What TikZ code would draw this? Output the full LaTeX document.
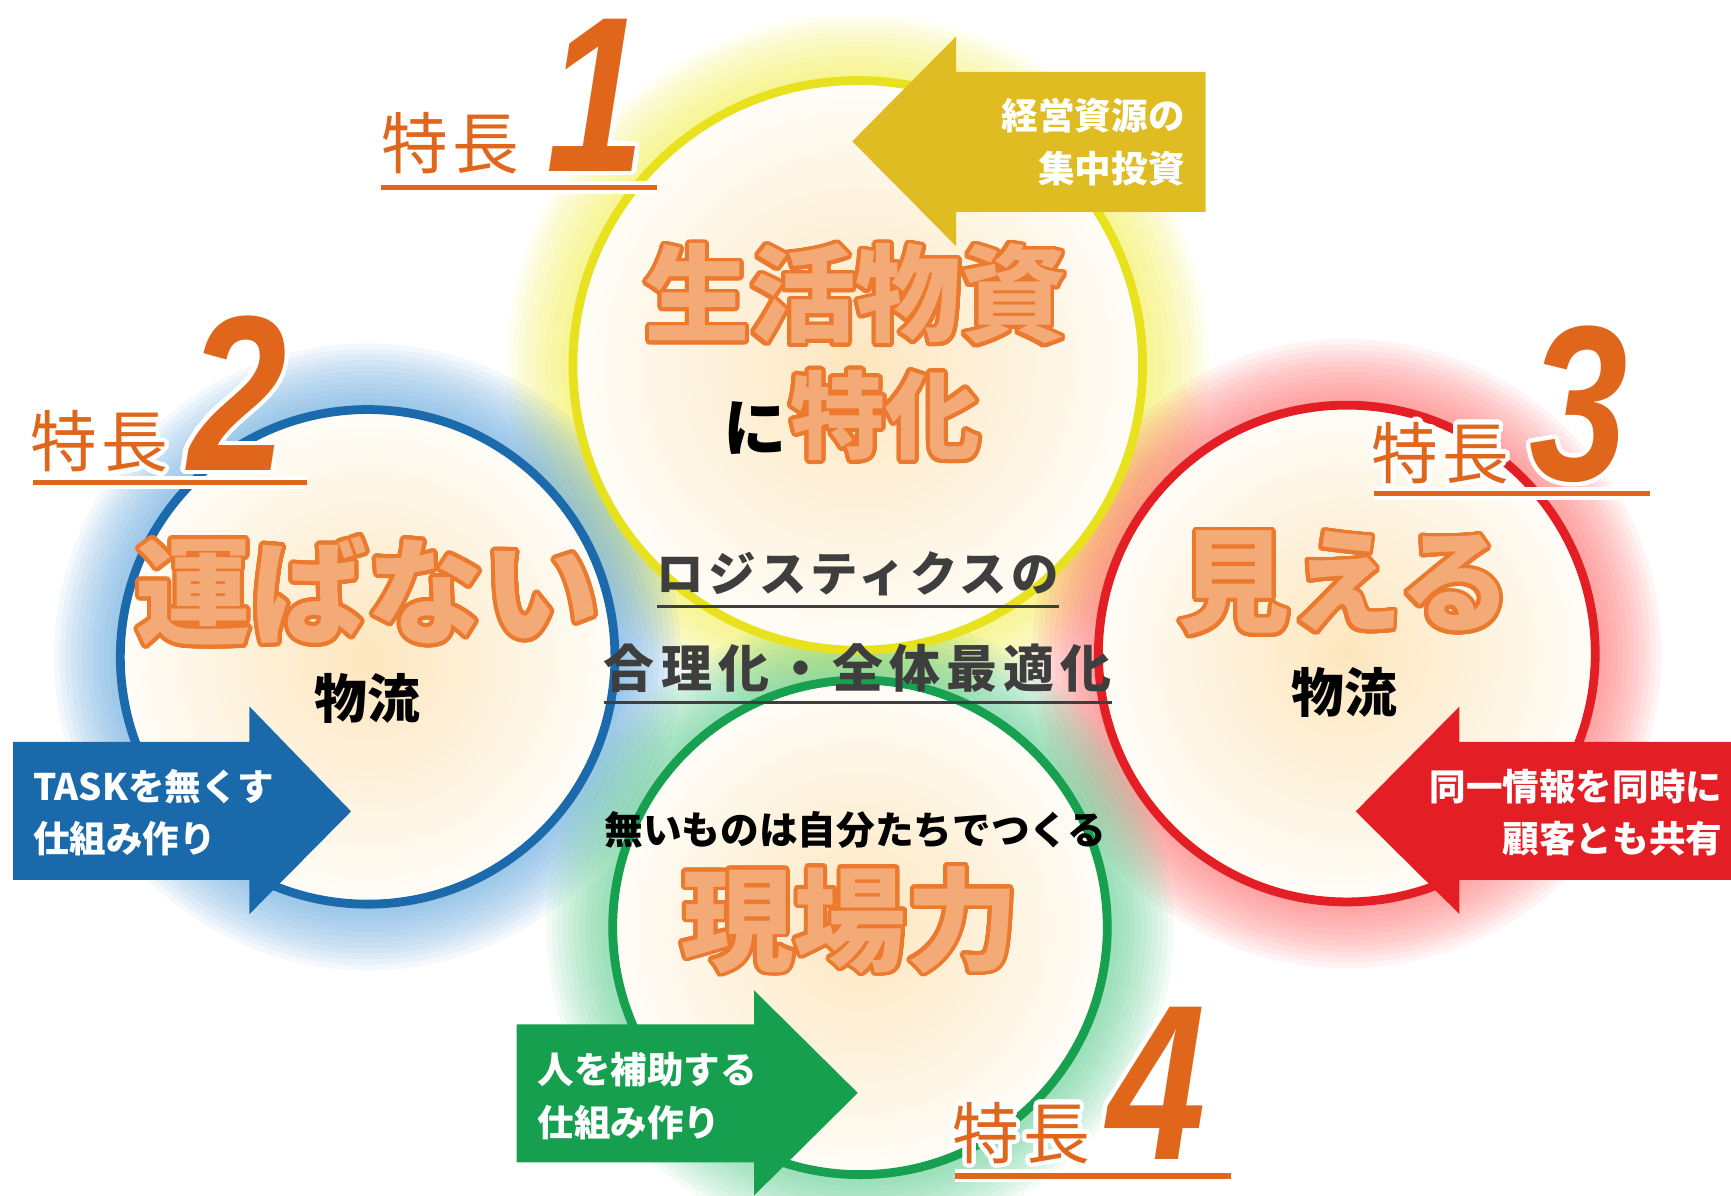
\documentclass[tikz,border=0pt]{standalone}
\usepackage{fontspec}
\usepackage{contour}
\usetikzlibrary{calc,positioning}

\newfontfamily\jp{Noto Sans CJK JP}
\newfontfamily\numfont{Liberation Sans}[FakeStretch=0.8]
\contournumber{32}

\definecolor{ringY}{HTML}{E8E21E}
\definecolor{ringB}{HTML}{1B6AAB}
\definecolor{ringR}{HTML}{E31E24}
\definecolor{ringG}{HTML}{17A04F}
\definecolor{glowY}{HTML}{F2EE50}
\definecolor{glowB}{HTML}{5DA3DA}
\definecolor{glowR}{HTML}{FF6A6A}
\definecolor{glowG}{HTML}{5CCB8E}
\definecolor{arrY}{HTML}{DFBD22}
\definecolor{arrB}{HTML}{1A69AA}
\definecolor{arrR}{HTML}{E31E24}
\definecolor{arrG}{HTML}{169F4E}
\definecolor{wordfill}{HTML}{F4AA76}
\definecolor{wordline}{HTML}{EC7A2E}
\definecolor{featorange}{HTML}{E0661C}
\definecolor{midgray}{HTML}{3E3E3E}
\definecolor{creamin}{HTML}{FDE6BE}
\definecolor{creamout}{HTML}{FFFDF8}

\newcommand{\hatchword}[1]{\contourlength{1.1pt}\contour{wordline}{#1}}
\newcommand{\whiteedge}[1]{\contourlength{1.2pt}\contour{white}{#1}}

\begin{document}
\begin{tikzpicture}[x=0.1104mm,y=-0.1104mm]
    \tikzstyle{every node}=[inner sep=0pt,outer sep=0pt]
    \tikzstyle{bigword}=[text=wordfill,font=\jp\bfseries\fontsize{30}{30}\selectfont]
    \tikzstyle{blackword}=[text=black,font=\jp\bfseries\fontsize{15}{15}\selectfont]
    \tikzstyle{featlbl}=[text=featorange,font=\jp\fontsize{19}{19}\selectfont\addfontfeature{LetterSpace=6}]
    \tikzstyle{featnum}=[text=featorange,font=\numfont\bfseries\itshape\fontsize{63}{63}\selectfont]
    \tikzstyle{arrtext}=[text=white,font=\jp\bfseries\fontsize{10.4}{15}\selectfont]
    \tikzstyle{midtext}=[text=midgray,font=\jp\bfseries\fontsize{13.5}{13.5}\selectfont\addfontfeature{LetterSpace=8}]
    \tikzstyle{featedge}=[white,line width=3.6pt]
    \tikzstyle{featbar}=[featorange,line width=1.6pt]
    \tikzstyle{midbar}=[midgray,line width=0.9pt]

    \useasboundingbox (0,0) rectangle (1568,1083);

    %% soft halos round the four circles
    \foreach \cx/\cy/\r/\gc in {777/331/258/glowY,333/595/224/glowB,1220/592/225/glowR,779/840/224/glowG}{
        \foreach \k in {1,...,12}
            \fill[\gc,opacity=0.08] (\cx,\cy) circle ({\r+\k*5});
    }

    %% the circles
    \foreach \cx/\cy/\r/\rc in {777/331/258/ringY,333/595/224/ringB,1220/592/225/ringR,779/840/224/ringG}{
        \shade[inner color=creamin,outer color=creamout] (\cx,\cy) circle (\r);
        \draw[\rc,line width=2.5pt] (\cx,\cy) circle (\r);
    }

    %% block arrows
    \fill[arrY] (1092,65) -- (866,65) -- (866,33) -- (772,128) -- (866,223) -- (866,192) -- (1092,192) -- cycle;
    \fill[arrB] (12,672) -- (226,672) -- (226,640) -- (318,735) -- (226,828) -- (226,797) -- (12,797) -- cycle;
    \fill[arrR] (1568,672) -- (1322,672) -- (1322,640) -- (1228,735) -- (1322,828) -- (1322,797) -- (1568,797) -- cycle;
    \fill[arrG] (468,928) -- (683,928) -- (683,897) -- (777,990) -- (683,1083) -- (683,1053) -- (468,1053) -- cycle;

    \node[arrtext,anchor=east,align=right] (txtY) at (1073,129) {経営資源の\\集中投資};
    \node[arrtext,anchor=west,align=left] (txtB) at (30,736) {TASKを無くす\\仕組み作り};
    \node[arrtext,anchor=east,align=right] (txtR) at (1560,736) {同一情報を同時に\\顧客とも共有};
    \node[arrtext,anchor=west,align=left] (txtG) at (487,993) {人を補助する\\仕組み作り};

    %% words in the circles
    \node[bigword] (wordY) at (775,268) {\hatchword{生活物資}};
    \node[bigword,font=\jp\bfseries\fontsize{27}{27}\selectfont] (wordYb) at (802,378) {\hatchword{特化}};
    \node[blackword,font=\jp\bfseries\fontsize{18}{18}\selectfont,anchor=base east] (wordYn) at ([xshift=-0.4mm]wordYb.base west) {に};
    \node[bigword,font=\jp\bfseries\fontsize{33}{33}\selectfont] (wordB) at (333,537) {\hatchword{運ばない}};
    \node[blackword] (subB) at (333,633) {物流};
    \node[bigword,font=\jp\bfseries\fontsize{32}{32}\selectfont] (wordR) at (1218,530) {\hatchword{見える}};
    \node[blackword] (subR) at (1218,627) {物流};
    \node[blackword,font=\jp\bfseries\fontsize{11}{11}\selectfont] (subG) at (775,752) {無いものは自分たちでつくる};
    \node[bigword,font=\jp\bfseries\fontsize{32}{32}\selectfont] (wordG) at (770,835) {\hatchword{現場力}};

    %% centre
    \node[midtext] (midA) at (777,520) {ロジスティクスの};
    \node[midtext,font=\jp\bfseries\fontsize{14.5}{14.5}\selectfont\addfontfeature{LetterSpace=12}] (midB) at (777,605) {合理化・全体最適化};
    \draw[midbar] ([yshift=-1mm]midA.south west) -- ([yshift=-1mm]midA.south east);
    \draw[midbar] ([yshift=-1mm]midB.south west) -- ([yshift=-1mm]midB.south east);

    %% feature labels
    \node[featnum] (num1) at (540,88) {\whiteedge{1}};
    \node[featlbl] (lbl1) at (408,132) {\whiteedge{特長}};
    \node[featnum] (num2) at (215,358) {\whiteedge{2}};
    \node[featlbl] (lbl2) at (90,402) {\whiteedge{特長}};
    \node[featnum] (num3) at (1430,368) {\whiteedge{3}};
    \node[featlbl] (lbl3) at (1305,412) {\whiteedge{特長}};
    \node[featnum] (num4) at (1048,983) {\whiteedge{4}};
    \node[featlbl] (lbl4) at (925,1028) {\whiteedge{特長}};

    \coordinate (bar1s) at (345,170);  \coordinate (bar1e) at (595,170);
    \coordinate (bar2s) at (30,437);   \coordinate (bar2e) at (278,437);
    \coordinate (bar3s) at (1245,447); \coordinate (bar3e) at (1495,447);
    \coordinate (bar4s) at (865,1065); \coordinate (bar4e) at (1115,1065);
    \foreach \b in {1,...,4}{
        \draw[featedge] (bar\b s) -- (bar\b e);
        \draw[featbar] (bar\b s) -- (bar\b e);
    }
\end{tikzpicture}
\end{document}
